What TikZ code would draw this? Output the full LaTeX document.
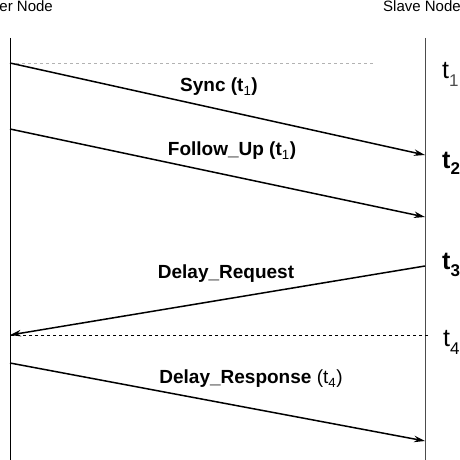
\documentclass[tikz,border=0pt]{standalone}
\usepackage{fontspec}
\setmainfont{Liberation Sans}
\usetikzlibrary{arrows.meta}
\begin{document}
\begin{tikzpicture}[x=1pt,y=-1pt,
  lifeline/.style={line width=0.9pt},
  msg/.style={line width=1.5pt,-{Stealth[length=11pt,width=6.5pt]}},
  guide/.style={dashed,line width=0.6pt},
  msglabel/.style={font=\fontsize{19}{21}\selectfont\bfseries,inner sep=0pt},
  header/.style={font=\fontsize{15}{17}\selectfont,inner sep=0pt},
  tlab/.style={inner sep=0pt,anchor=base west}]
\clip (0,0) rectangle (460,460);
\fill[white] (0,0) rectangle (460,460);
% lifelines
\coordinate (mtop) at (10,38);
\coordinate (mbot) at (10,462);
\coordinate (stop) at (425,38);
\coordinate (sbot) at (425,462);
\draw[lifeline] (mtop) -- (mbot);
\draw[lifeline,black!70] (stop) -- (sbot);
% headers
\node[header,anchor=north east] (hm) at (53,0) {Master Node};
\node[header,anchor=north west] (hs) at (383,0) {Slave Node};
% message points
\coordinate (m1) at (10,63);
\coordinate (s1) at (425,155);
\coordinate (m2) at (10,129);
\coordinate (s2) at (425,217);
\coordinate (s3) at (425,266);
\coordinate (m3) at (10,335);
\coordinate (m4) at (10,363);
\coordinate (s4) at (425,441);
\coordinate (d1) at (375,63);
\coordinate (d3) at (428,335);
% guides
\draw[guide,black!30] (m1) -- (d1);
\draw[guide] (d3) -- (m3);
% messages
\draw[msg] (m1) -- (s1);
\draw[msg] (m2) -- (s2);
\draw[msg] (s3) -- (m3);
\draw[msg] (m4) -- (s4);
% labels
\node[msglabel] (l1) at (219,87) {Sync (t\textsubscript{\mdseries 1})};
\node[msglabel] (l2) at (232,151) {Follow\_Up (t\textsubscript{\mdseries 1})};
\node[msglabel] (l3) at (226,274) {Delay\_Request};
\node[msglabel] (l4) at (251,379) {Delay\_Response {\mdseries(t\textsubscript{4})}};
% time labels
\node[tlab,font=\fontsize{25}{25}\selectfont] (t1) at (442,78) {t\raisebox{-8pt}{\fontsize{17}{17}\selectfont\color{black!70}1}};
\node[tlab,font=\fontsize{25}{25}\selectfont\bfseries] (t2) at (442,168) {t\raisebox{-6pt}{\fontsize{17}{17}\selectfont 2}};
\node[tlab,font=\fontsize{25}{25}\selectfont\bfseries] (t3) at (442,269) {t\raisebox{-7pt}{\fontsize{17}{17}\selectfont 3}};
\node[tlab,font=\fontsize{25}{25}\selectfont] (t4) at (443,346) {t\raisebox{-8pt}{\fontsize{17}{17}\selectfont 4}};
\end{tikzpicture}
\end{document}
